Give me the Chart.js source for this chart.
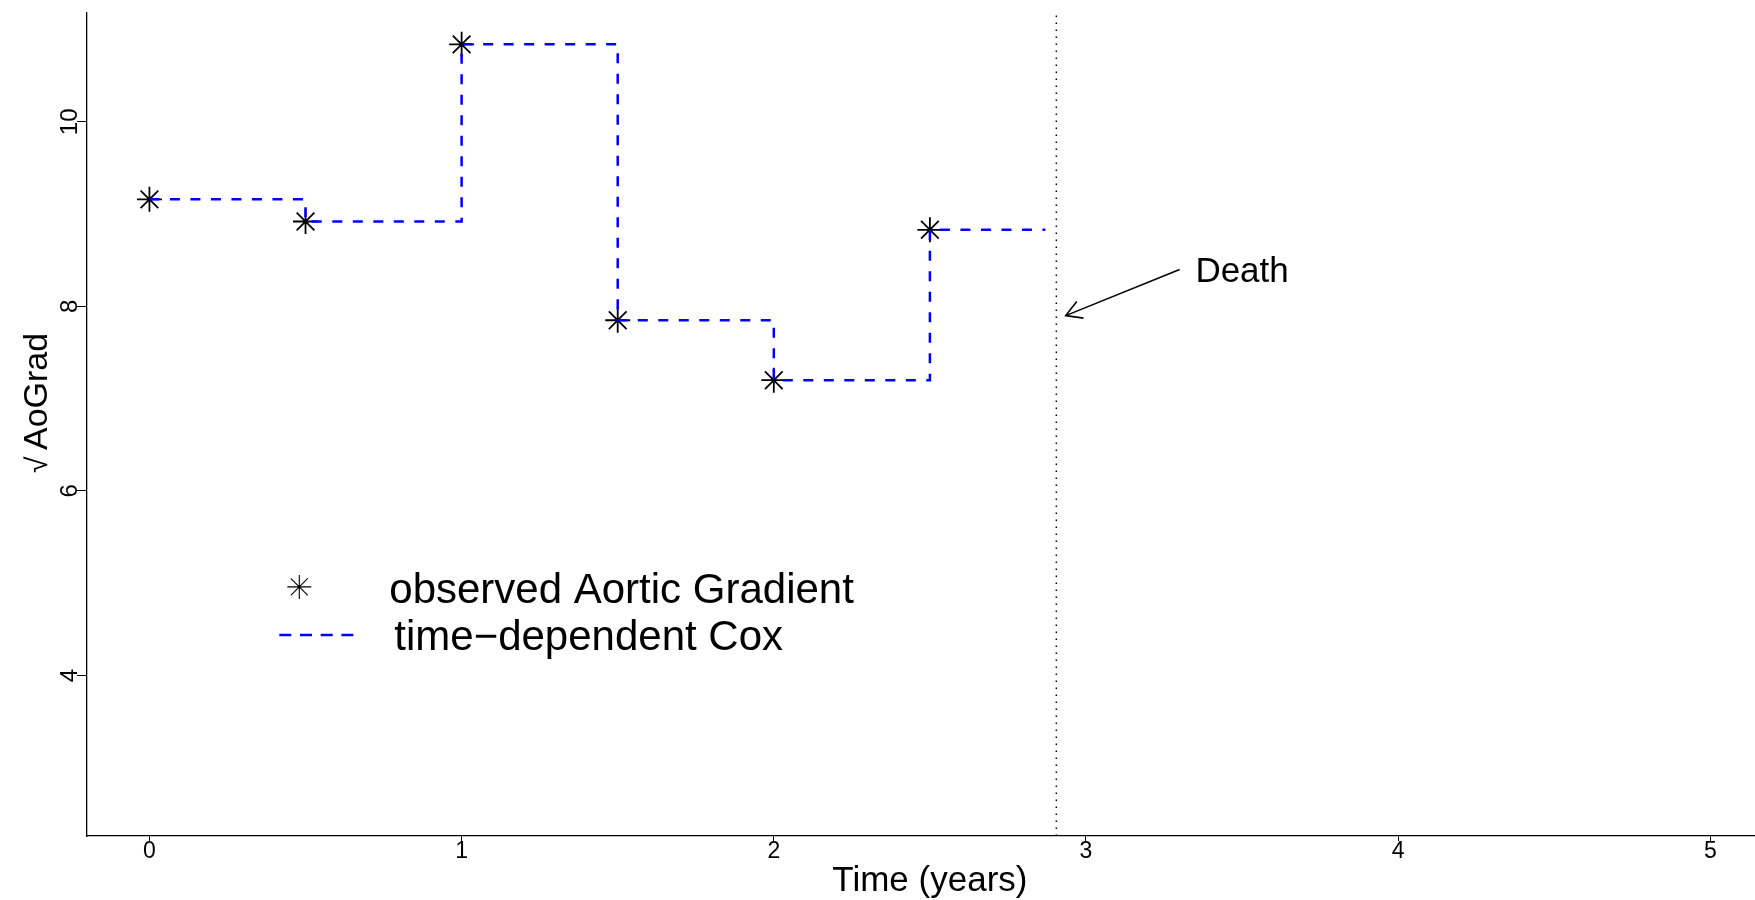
<!DOCTYPE html>
<html>
<head>
<meta charset="utf-8">
<script src="https://cdn.jsdelivr.net/npm/chart.js@4.4.1/dist/chart.umd.min.js"></script>
<style>
  html, body { margin: 0; padding: 0; background: #fff; overflow: hidden; }
  canvas { display: block; }
</style>
</head>
<body>
<canvas id="grafico" width="1755" height="900"></canvas>
<script>
// mediciones del paciente (raiz del gradiente aortico)
const tiempos = [0, 0.5, 1, 1.5, 2, 2.5];
const aoGrad = [9.16, 8.92, 10.84, 7.85, 7.2, 8.83];
const finEscalon = 2.87;      // ultimo tramo del escalon
const tiempoMuerte = 2.905;   // linea punteada vertical
const rangoX = [-0.2, 5.143];
const centroTituloX = 2.5;
const rangoY = [2.26, 11.18];
const flecha = { desde: [3.3, 8.4], hasta: [2.935, 7.9] };
const textoMuerte = { x: 3.5, y: 8.4, texto: 'Death' };
const etiquetasLeyenda = ['observed Aortic Gradient', 'time\u2212dependent Cox'];
const posLeyenda = [0.48, 4.96];

const FUENTE = '"Liberation Sans", Arial, sans-serif';
const AZUL = '#0000ff';

Chart.defaults.font.family = FUENTE;
Chart.defaults.color = '#000';

function dibujarEstrella(ctx, cx, cy, r) {
    ctx.beginPath();
    for (let k = 0; k < 4; k++) {
        const a = k * Math.PI / 4;
        ctx.moveTo(cx - Math.cos(a) * r, cy - Math.sin(a) * r);
        ctx.lineTo(cx + Math.cos(a) * r, cy + Math.sin(a) * r);
    }
    ctx.stroke();
}

const extras = {
    id: 'extras',
    afterDatasetsDraw(chart) {
        const { ctx, scales: { x, y } } = chart;
        ctx.save();
        ctx.fillStyle = '#000';
        ctx.strokeStyle = '#000';
        ctx.textBaseline = 'alphabetic';

        // etiquetas del eje x
        ctx.font = '23px ' + FUENTE;
        ctx.textAlign = 'center';
        x.ticks.forEach(t => {
            ctx.fillText(String(t.value), x.getPixelForValue(t.value), x.top + 22);
        });

        // titulo del eje x
        ctx.font = '35px ' + FUENTE;
        ctx.fillText('Time (years)', x.getPixelForValue(centroTituloX), x.top + 55);

        // etiquetas del eje y, giradas
        ctx.font = '24px ' + FUENTE;
        y.ticks.forEach(t => {
            ctx.save();
            ctx.translate(x.left - 10, y.getPixelForValue(t.value));
            ctx.rotate(-Math.PI / 2);
            ctx.fillText(String(t.value), 0, 0);
            ctx.restore();
        });

        // titulo del eje y
        ctx.save();
        ctx.translate(47, 473);
        ctx.rotate(-Math.PI / 2);
        ctx.textAlign = 'left';
        ctx.font = '30px ' + FUENTE;
        ctx.fillText('\u221A', 0, 0);
        ctx.font = '34px ' + FUENTE;
        ctx.fillText('AoGrad', 23, 0);
        ctx.restore();

        // flecha y texto
        const x0 = x.getPixelForValue(flecha.desde[0]), y0 = y.getPixelForValue(flecha.desde[1]);
        const x1 = x.getPixelForValue(flecha.hasta[0]), y1 = y.getPixelForValue(flecha.hasta[1]);
        const ang = Math.atan2(y1 - y0, x1 - x0);
        ctx.lineWidth = 1.6;
        ctx.beginPath();
        ctx.moveTo(x0, y0);
        ctx.lineTo(x1, y1);
        ctx.moveTo(x1 - 18 * Math.cos(ang - Math.PI / 6), y1 - 18 * Math.sin(ang - Math.PI / 6));
        ctx.lineTo(x1, y1);
        ctx.lineTo(x1 - 18 * Math.cos(ang + Math.PI / 6), y1 - 18 * Math.sin(ang + Math.PI / 6));
        ctx.stroke();

        ctx.font = '35px ' + FUENTE;
        ctx.textAlign = 'center';
        ctx.fillText(textoMuerte.texto, x.getPixelForValue(textoMuerte.x), y.getPixelForValue(textoMuerte.y) + 12.5);

        // leyenda
        const lx = x.getPixelForValue(posLeyenda[0]);
        const ly = y.getPixelForValue(posLeyenda[1]);
        ctx.lineWidth = 1.1;
        dibujarEstrella(ctx, lx, ly, 12);
        ctx.font = '42px ' + FUENTE;
        ctx.textAlign = 'left';
        ctx.fillText(etiquetasLeyenda[0], lx + 90, ly + 16.5);
        ctx.fillText(etiquetasLeyenda[1], lx + 95, ly + 63);
        ctx.strokeStyle = AZUL;
        ctx.lineWidth = 2.5;
        ctx.setLineDash([12, 8.7]);
        ctx.beginPath();
        ctx.moveTo(lx - 20, ly + 48);
        ctx.lineTo(lx + 54, ly + 48);
        ctx.stroke();
        ctx.restore();
    }
};

const puntos = tiempos.map((t, i) => ({ x: t, y: aoGrad[i] }));

new Chart(document.getElementById('grafico'), {
    type: 'scatter',
    data: {
        datasets: [
            {
                type: 'line',
                label: etiquetasLeyenda[1],
                data: [...puntos, { x: finEscalon, y: aoGrad[aoGrad.length - 1] }],
                stepped: true,
                borderColor: AZUL,
                borderWidth: 2.5,
                borderDash: [10, 10.5],
                pointRadius: 0,
                fill: false
            },
            {
                label: etiquetasLeyenda[0],
                data: puntos,
                pointStyle: 'star',
                pointRadius: 12.5,
                borderColor: '#000',
                backgroundColor: '#000',
                borderWidth: 1.8
            },
            {
                type: 'line',
                label: 'muerte',
                data: [{ x: tiempoMuerte, y: rangoY[0] }, { x: tiempoMuerte, y: rangoY[1] }],
                borderColor: '#000',
                borderWidth: 1.5,
                borderDash: [1.5, 5.5],
                pointRadius: 0,
                fill: false
            }
        ]
    },
    options: {
        responsive: false,
        animation: false,
        events: [],
        layout: { autoPadding: false, padding: { top: 13, right: 0, left: 0, bottom: 0 } },
        plugins: { legend: { display: false }, tooltip: { enabled: false } },
        scales: {
            x: {
                type: 'linear',
                min: rangoX[0],
                max: rangoX[1],
                afterFit: s => { s.height = 64; },
                ticks: { display: false, stepSize: 1, includeBounds: false },
                grid: { display: true, drawOnChartArea: false, drawTicks: true, tickLength: 5, color: '#000', lineWidth: 1 },
                border: { display: true, color: '#000', width: 1.3 }
            },
            y: {
                type: 'linear',
                min: rangoY[0],
                max: rangoY[1],
                afterFit: s => { s.width = 87; },
                ticks: { display: false, stepSize: 2, includeBounds: false },
                grid: { display: true, drawOnChartArea: false, drawTicks: true, tickLength: 10, color: '#000', lineWidth: 1 },
                border: { display: true, color: '#000', width: 1.3 }
            }
        }
    },
    plugins: [extras]
});
</script>
</body>
</html>
